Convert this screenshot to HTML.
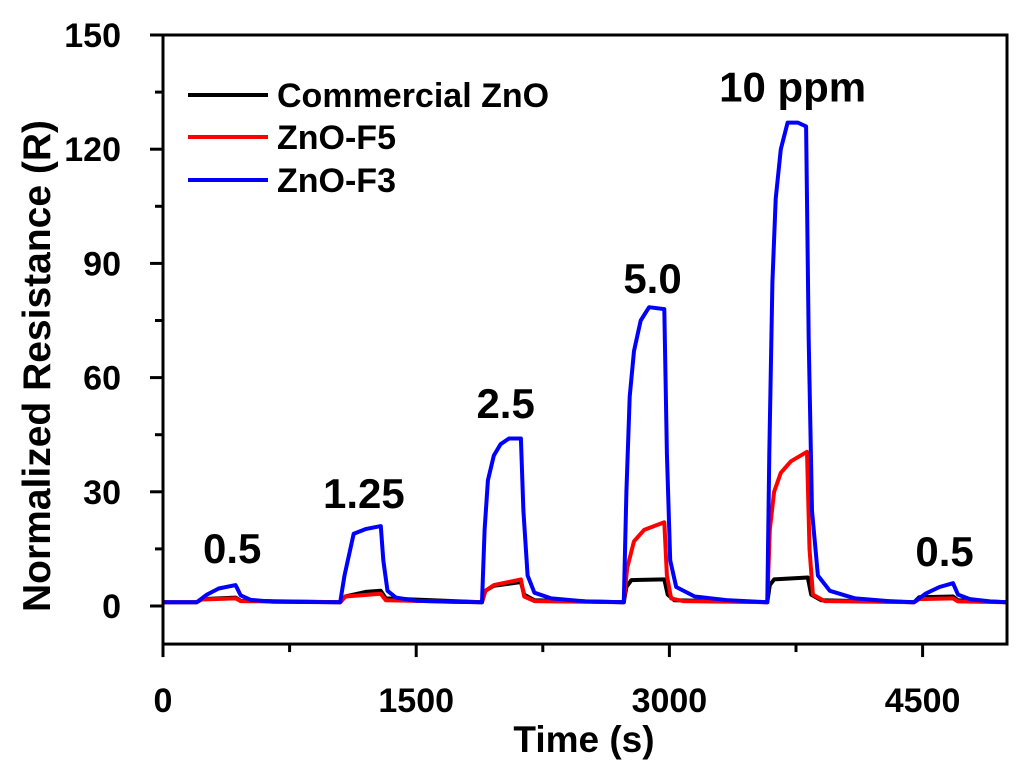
<!DOCTYPE html>
<html><head><meta charset="utf-8"><style>
html,body{margin:0;padding:0;background:#fff;}
svg text{font-family:"Liberation Sans",Arial,sans-serif;font-weight:bold;fill:#000;}
</style></head><body>
<svg id="chart" width="1024" height="775" viewBox="0 0 1024 775" xmlns="http://www.w3.org/2000/svg">
<rect x="0" y="0" width="1024" height="775" fill="#fff"/>
<g id="marks"></g>
<g id="axes"></g>
</svg>
<script>
const xTicks = [0, 1500, 3000, 4500];
const xMinor = [750, 2250, 3750];
const yTicks = [0, 30, 60, 90, 120, 150];
const yMinor = [15, 45, 75, 105, 135];
const seriesNames = ["Commercial ZnO", "ZnO-F5", "ZnO-F3"];
const seriesColors = ["#000000", "#ff0000", "#0000ff"];
const commercialT = [0,200,230,430,460,1050,1080,1200,1290,1320,1890,1910,1960,2120,2140,2200,2730,2745,2775,2970,2990,3030,3580,3595,3620,3820,3840,3900,4450,4480,4680,4710,5000];
const commercialV = [1,1,1.8,2.2,1.4,1,2.5,3.7,4,2,1,4,5.3,6.3,3,1.5,1,5,6.8,7,3,1.5,1,5.5,7,7.5,3,1.5,1,2.3,2.5,1.5,1];
const f5T = [0,200,230,430,460,1050,1080,1290,1320,1890,1910,1960,2120,2140,2200,2730,2750,2790,2850,2970,2985,3010,3080,3580,3595,3620,3660,3720,3815,3830,3850,3920,4450,4480,4680,4710,5000];
const f5V = [1,1,1.7,2,1.3,1,2.5,3.2,1.5,1,4,5.5,7,2.5,1.3,1,10,17,20,22,8,2,1.3,1,20,30,35,38,40.5,15,3,1.3,1,1.8,2,1.2,1];
const f3T = [0,200,260,330,430,460,520,650,1050,1075,1130,1200,1290,1305,1330,1380,1500,1700,1890,1905,1925,1960,2000,2050,2120,2135,2160,2200,2300,2500,2730,2745,2765,2790,2830,2880,2970,2985,3005,3040,3150,3350,3580,3592,3610,3630,3660,3700,3760,3810,3825,3845,3880,3950,4100,4300,4450,4520,4600,4680,4710,4780,4900,5000];
const f3V = [1,1,3,4.6,5.5,2.8,1.6,1.1,1,8,19,20.2,21,12,4,2.2,1.4,1.1,1,20,33,39.5,42.5,44,44,25,8,3.5,2,1.2,1,30,55,67,75,78.5,78,40,12,5,2.5,1.5,1,40,85,107,120,127,127,126,70,25,8,4,2,1.3,1,3.3,5,6,3,1.8,1.2,1];
const annotText = ["0.5","1.25","2.5","5.0","10 ppm","0.5"];
const annotT = [410,1190,2030,2900,3730,4630];
const annotV = [11.3,25.7,49.4,82.2,132.5,10.5];

const X0=163, X1=1007, Y0=606, YTOP=35;
const xMax=5000, yMin=-10, yMax=150;
const yScaleK=(Y0-YTOP)/150;
function sx(t){return X0+(t/xMax)*(X1-X0);}
function sy(v){return Y0-v*yScaleK;}
const NS="http://www.w3.org/2000/svg";
function mk(tag,attrs,parent){const e=document.createElementNS(NS,tag);for(const k in attrs)e.setAttribute(k,attrs[k]);parent.appendChild(e);return e;}
const marks=document.getElementById('marks');
const axes=document.getElementById('axes');
const YB=sy(yMin);

const allT=[commercialT,f5T,f3T], allV=[commercialV,f5V,f3V];
const seriesKeys=["series-commercial-zno","series-zno-f5","series-zno-f3"];
for(let s=0;s<3;s++){
  let d="";
  for(let i=0;i<allT[s].length;i++){d+=(i?"L":"M")+sx(allT[s][i]).toFixed(1)+","+sy(allV[s][i]).toFixed(1);}
  const p=mk('path',{d:d,fill:'none',stroke:seriesColors[s],'stroke-width':4,'stroke-linejoin':'round'},marks);
  
  
}
for(let i=0;i<annotText.length;i++){
  const t=mk('text',{x:sx(annotT[i]),y:sy(annotV[i]),'text-anchor':'middle','font-size':42},marks);
  t.textContent=annotText[i];
  
  
}
const fr=mk('rect',{x:X0,y:YTOP,width:X1-X0,height:YB-YTOP,fill:'none',stroke:'#000','stroke-width':3},axes);


xTicks.forEach(t=>{
  const l=mk('line',{x1:sx(t),x2:sx(t),y1:YB,y2:YB+13,stroke:'#000','stroke-width':3},axes);
  
  
  const tx=mk('text',{x:sx(t),y:YB+68,'text-anchor':'middle','font-size':34},axes);
  tx.textContent=t;
  
  
});
xMinor.forEach(t=>{
  const l=mk('line',{x1:sx(t),x2:sx(t),y1:YB,y2:YB+8,stroke:'#000','stroke-width':3},axes);
  
  
});
yTicks.forEach(v=>{
  const l=mk('line',{x1:X0-13,x2:X0,y1:sy(v),y2:sy(v),stroke:'#000','stroke-width':3},axes);
  
  
  const tx=mk('text',{x:121,y:sy(v)+12,'text-anchor':'end','font-size':34},axes);
  tx.textContent=v;
  
  
});
yMinor.forEach(v=>{
  const l=mk('line',{x1:X0-8,x2:X0,y1:sy(v),y2:sy(v),stroke:'#000','stroke-width':3},axes);
  
  
});
const xt=mk('text',{x:584,y:752,'text-anchor':'middle','font-size':37},axes);
xt.textContent="Time (s)";


const yt=mk('text',{x:0,y:0,'text-anchor':'middle','font-size':39,transform:'translate(50,366) rotate(-90)'},axes);
yt.textContent="Normalized Resistance (R)";


const legY=[95,137,180];
for(let s=0;s<3;s++){
  const g=mk('g',{},axes);
  
  
  mk('line',{x1:188,x2:268,y1:legY[s],y2:legY[s],stroke:seriesColors[s],'stroke-width':4},g);
  const tx=mk('text',{x:277,y:legY[s]+12,'font-size':34},g);
  tx.textContent=seriesNames[s];
}
</script>
</body></html>
